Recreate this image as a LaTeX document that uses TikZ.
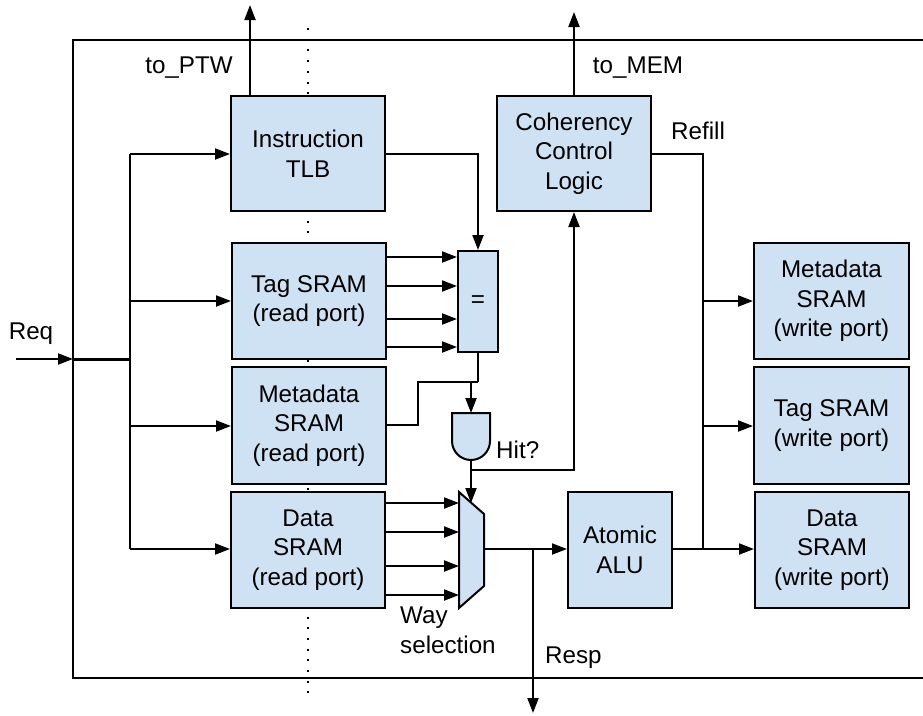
\documentclass[tikz,border=0pt]{standalone}
\usepackage{fontspec}
\setmainfont{Liberation Sans}
\usetikzlibrary{arrows.meta}
\definecolor{boxfill}{HTML}{CFE2F3}
\tikzset{
  wire/.style={line width=2pt},
  arr/.style={wire, -{Triangle[length=15pt,width=11pt]}},
  box/.style={draw, line width=2pt, fill=boxfill, rectangle, align=center,
    inner sep=0pt, font=\fontsize{24.2}{29.5}\selectfont},
  lbl/.style={inner sep=0pt, font=\fontsize{24.2}{29.5}\selectfont},
}
\begin{document}
\begin{tikzpicture}[x=1pt,y=-1pt]
\useasboundingbox (0,0) rectangle (923,715);

% pipeline stage boundary
\draw[line width=2.2pt, dash pattern=on 2pt off 8.7pt] (308,28) -- (308,694);

% cache frame (open on the right)
\draw[line width=1.8pt] (923,40) -- (73,40) -- (73,678) -- (923,678);

% read-side arrays
\node[box, minimum width=154pt, minimum height=115pt] (tlb)  at (308,153.5) {Instruction\\TLB};
\node[box, minimum width=154pt, minimum height=116pt] (tagr) at (309,301) {Tag SRAM\\(read port)};
\node[box, minimum width=154pt, minimum height=117pt] (metr) at (309,425.5) {Metadata\\SRAM\\(read port)};
\node[box, minimum width=154pt, minimum height=116pt] (datr) at (308,550) {Data\\SRAM\\(read port)};

% tag comparator
\node[box, minimum width=40pt, minimum height=101pt] (eq) at (478,301.5) {=};

% coherency and atomics
\node[box, minimum width=154pt, minimum height=115pt] (coh) at (574,153.5) {Coherency\\Control\\Logic};
\node[box, minimum width=104pt, minimum height=116pt] (alu) at (620,550) {Atomic\\ALU};

% write-side arrays
\node[box, minimum width=155pt, minimum height=116pt] (metw) at (831.5,301) {Metadata\\SRAM\\(write port)};
\node[box, minimum width=155pt, minimum height=117pt] (tagw) at (831.5,425.5) {Tag SRAM\\(write port)};
\node[box, minimum width=154pt, minimum height=116pt] (datw) at (832,550) {Data\\SRAM\\(write port)};

% hit AND gate
\draw[line width=2pt, fill=boxfill] (452,413) -- (490,413) -- (490,441)
  arc[start angle=0, end angle=-180, radius=19pt] -- cycle;
\coordinate (andin) at (471,413);
\coordinate (andout) at (471,460);

% way-select mux
\draw[line width=2pt, fill=boxfill] (459,492) -- (484,514) -- (484,586) -- (459,608) -- cycle;
\coordinate (muxsel) at (471,503);
\coordinate (muxout) at (484,549);

% request fan-out
\coordinate (reqin) at (16,359);
\coordinate (reqport) at (73,359);
\coordinate (bus) at (130,359);
\draw[arr] (reqin) -- (reqport);
\draw[line width=3pt] (reqport) -- (bus);
\draw[wire] (130,154) -- (130,549);
\draw[arr] (130,154) -- (tlb.west|-130,154);
\draw[arr] (130,301) -- (tagr.west|-130,301);
\draw[arr] (130,426) -- (metr.west|-130,426);
\draw[arr] (130,549) -- (datr.west|-130,549);

% page table walker
\coordinate (ptw) at (250,5);
\draw[arr] (tlb.north-|ptw) -- (ptw);

% tag compare
\foreach \y in {257,286,319,347}
  \draw[arr] (tagr.east|-0,\y) -- (eq.west|-0,\y);
\draw[arr] (tlb.east|-0,154) -- (478,154) -- (eq.north);
\coordinate (hitjoin) at (471,382);
\draw[wire] (eq.south) -- (478,382);
\draw[wire] (metr.east|-0,425) -- (418,425) -- (418,382) -- (478,382);
\draw[arr] (hitjoin) -- (andin);

% hit signal
\draw[arr] (andout) -- (muxsel);
\draw[arr] (471,470) -- (574,470) -- (coh.south);

% data path
\foreach \y in {503,532,566,595}
  \draw[arr] (datr.east|-0,\y) -- (459,\y);
\draw[arr] (muxout) -- (alu.west|-muxout);
\coordinate (resp) at (533,713);
\draw[arr] (533,549) -- (resp);

% refill and write-back
\coordinate (mem) at (574,12);
\draw[arr] (coh.north) -- (mem);
\draw[wire] (coh.east|-0,154) -- (703,154) -- (703,549);
\draw[arr] (703,301) -- (metw.west|-0,301);
\draw[arr] (703,426) -- (tagw.west|-0,426);
\draw[arr] (alu.east|-0,549) -- (datw.west|-0,549);

% labels
\node[lbl] (lptw) at (189,68) {to\_PTW};
\node[lbl] (lmem) at (638,68) {to\_MEM};
\node[lbl] (lref) at (698,131) {Refill};
\node[lbl] (lreq) at (31,334) {Req};
\node[lbl, anchor=west] (lhit) at (496,450) {Hit?};
\node[lbl, align=left, anchor=north west] (lway) at (400,607) {Way\\selection};
\node[lbl, anchor=west] (lresp) at (545,658) {Resp};
\end{tikzpicture}
\end{document}
